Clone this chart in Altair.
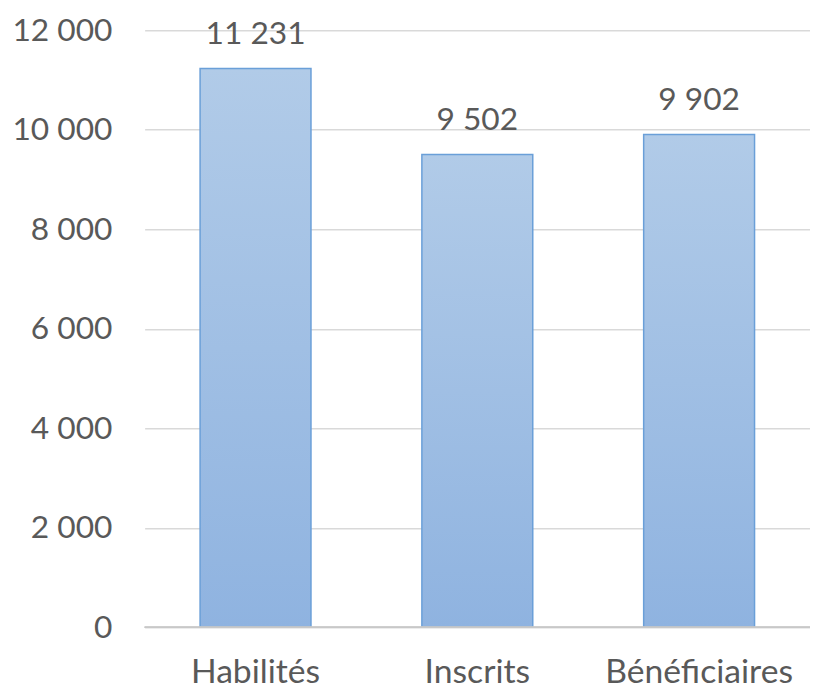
import altair as alt
import pandas as pd

categories = ["Habilités", "Inscrits", "Bénéficiaires"]
values = [11231, 9502, 9902]

df = pd.DataFrame({"cat": categories, "val": values})

FONT = "Lato"
TXT = "#595959"

grad = alt.Gradient(
    gradient="linear",
    stops=[alt.GradientStop(color="#b1cbe8", offset=0),
           alt.GradientStop(color="#8fb3e0", offset=1)],
    x1=0, x2=0, y1=0, y2=1,
)

x = alt.X("cat:N", sort=categories, title=None,
          scale=alt.Scale(paddingInner=0.5, paddingOuter=0.25),
          axis=alt.Axis(labelAngle=0, labelFont=FONT, labelFontSize=34, labelColor=TXT,
                        labelLimit=400, domain=False, ticks=False, labelPadding=29))
y = alt.Y("val:Q", title=None,
          scale=alt.Scale(domain=[0, 12000], nice=False),
          axis=alt.Axis(values=[0, 2000, 4000, 6000, 8000, 10000, 12000],
                        labelExpr="replace(format(datum.value, ','), ',', ' ')",
                        labelFont=FONT, labelFontSize=32, labelColor=TXT,
                        domain=False, ticks=False, labelPadding=33,
                        gridColor="#d9d9d9", gridWidth=1.5))

bars = alt.Chart(df).mark_bar(fill=grad, stroke="#6a9fd8", strokeWidth=1.5).encode(x=x, y=y)
text = alt.Chart(df).transform_calculate(
    lab="replace(format(datum.val, ','), ',', ' ')"
).mark_text(font=FONT, fontSize=32, color=TXT, baseline="alphabetic", dy=-25).encode(
    x=alt.X("cat:N", sort=categories), y="val:Q", text="lab:N")

base = alt.Chart(df).mark_rule(color="#c8c8c8", strokeWidth=1.5).encode(y=alt.datum(0))

chart = (alt.layer(bars, base, text)
         .properties(width=672, height=603,
                     autosize=alt.AutoSizeParams(type="none"),
                     padding={"left": 138, "top": 19, "right": 0, "bottom": 70})
         .configure_view(stroke=None))

chart.save("out.html", embed_options={"renderer": "svg", "actions": False})
